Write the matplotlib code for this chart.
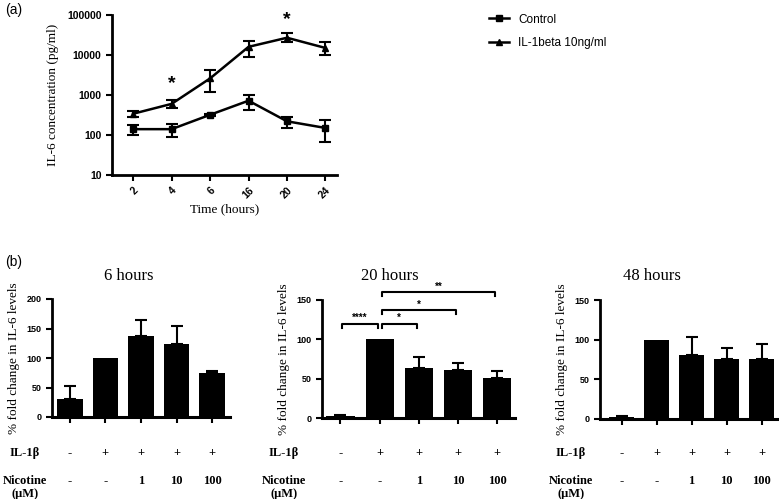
import numpy as np
import matplotlib
matplotlib.use('Agg')
import matplotlib.pyplot as plt
from matplotlib.lines import Line2D
from matplotlib.transforms import blended_transform_factory

SANS = 'Liberation Sans'
SERIF = 'Liberation Serif'

# Panel (a): IL-6 time course
times = ['2', '4', '6', '16', '20', '24']
ctrl = [140, 140, 320, 720, 220, 150]
ctrl_lo = [100, 90, 300, 430, 150, 65]
ctrl_hi = [180, 190, 340, 1000, 280, 240]
il1 = [340, 600, 2600, 16000, 27000, 15000]
il1_lo = [290, 470, 1200, 9000, 21000, 10000]
il1_hi = [400, 770, 4200, 23000, 35000, 21000]
star_pos = [1, 4]
star_val = [1900, 75000]

# Panel (b): % fold change
il1_row = ['-', '+', '+', '+', '+']
nic_row = ['-', '-', '1', '10', '100']
h6 = [30, 100, 138, 123, 75]
h6_err = [23, 0, 27, 31, 3]
h20 = [3, 100, 64, 61, 51]
h20_err = [1, 0, 13, 9, 9]
h48 = [3, 100, 81, 76, 76]
h48_err = [1, 0, 22, 13, 18]
# brackets: (from bar, to bar, height, label)
h20_sig = [(0, 1, 120, '****'), (1, 2, 120, '*'), (1, 3, 137, '*'), (1, 4, 160, '**')]

W, H = 779, 499
fig = plt.figure(figsize=(W / 100, H / 100), dpi=100)


def box(l, t, r, b):
    return [l / W, 1 - b / H, (r - l) / W, (b - t) / H]


def style(ax):
    for s in ['top', 'right']:
        ax.spines[s].set_visible(False)
    for s in ['left', 'bottom']:
        ax.spines[s].set_linewidth(2)
    ax.tick_params(width=1.5, length=4, direction='out')


# ---- (a)
ax = fig.add_axes(box(112, 15, 337, 175))
style(ax)
x = np.arange(len(times))
for vals, lo, hi, mk in [(ctrl, ctrl_lo, ctrl_hi, 's'), (il1, il1_lo, il1_hi, '^')]:
    ax.errorbar(x, vals, yerr=[np.subtract(vals, lo), np.subtract(hi, vals)],
                color='black', marker=mk, markersize=5, lw=1.8, capsize=4,
                elinewidth=1.5, capthick=1.5)
ax.set_yscale('log')
ax.set_ylim(10, 100000)
ax.set_xlim(-0.55, 5.3)
ax.set_yticks([10, 100, 1000, 10000, 100000])
ax.set_yticklabels(['10', '100', '1000', '10000', '100000'])
ax.minorticks_off()
ax.set_xticks(x)
ax.set_xticklabels(times, rotation=45, ha='right', rotation_mode='anchor')
for lab in ax.get_xticklabels() + ax.get_yticklabels():
    lab.set_fontfamily(SANS)
    lab.set_fontweight('bold')
    lab.set_fontsize(7.5)
for p, v in zip(star_pos, star_val):
    ax.text(x[p], v, '*', ha='center', va='center', fontsize=14,
            fontfamily=SANS, fontweight='bold')
ax.set_ylabel('IL-6 concentration (pg/ml)', fontfamily=SERIF, fontsize=9.5, labelpad=6)
ax.set_xlabel('Time (hours)', fontfamily=SERIF, fontsize=9.5, labelpad=2)
handles = [Line2D([], [], color='black', marker='s', markersize=5, lw=1.8),
           Line2D([], [], color='black', marker='^', markersize=5, lw=1.8)]
ax.legend(handles, ['Control', 'IL-1beta 10ng/ml'], loc='upper left',
          bbox_to_anchor=(478 / W, 1 - 3 / H), bbox_transform=fig.transFigure,
          frameon=False, prop={'family': SANS, 'size': 8.5}, handlelength=1.7,
          labelspacing=1.0)

fig.text(5 / W, 1 - 10 / H, '(a)', fontfamily=SANS, fontsize=10, va='center')
fig.text(5 / W, 1 - 262 / H, '(b)', fontfamily=SANS, fontsize=10, va='center')

# ---- (b)
panels = [
    ('6 hours', h6, h6_err, box(52, 299, 230, 417), 200, [0, 50, 100, 150, 200],
     (-0.5, 4.5), 25, 129),
    ('20 hours', h20, h20_err, box(322, 300, 515, 418), 150, [0, 50, 100, 150],
     (-0.47, 4.45), 284, 390),
    ('48 hours', h48, h48_err, box(600, 300, 779, 419), 150, [0, 50, 100, 150],
     (-0.62, 4.5), 571, 652),
]

for title, vals, errs, rect, ymax, yt, xl, lab_x, title_x in panels:
    ax = fig.add_axes(rect)
    style(ax)
    ax.spines['bottom'].set_linewidth(2.2)
    xb = np.arange(len(vals))
    ax.bar(xb, vals, width=0.72, color='black', zorder=2)
    for xi, v, e in zip(xb, vals, errs):
        if e > 0:
            ax.errorbar([xi], [v], yerr=[[0], [e]], fmt='none', ecolor='black',
                        elinewidth=1.5, capsize=4, capthick=1.5, zorder=1)
    ax.set_ylim(0, ymax)
    ax.set_yticks(yt)
    ax.set_xlim(*xl)
    ax.set_xticks(xb)
    ax.set_xticklabels([])
    for lab in ax.get_yticklabels():
        lab.set_fontfamily(SANS)
        lab.set_fontweight('bold')
        lab.set_fontsize(6.5)
    ax.set_ylabel('% fold change in IL-6 levels', fontfamily=SERIF, fontsize=9.5,
                  labelpad=5)
    fig.text(title_x / W, 1 - 276 / H, title, fontfamily=SERIF, fontsize=12,
             ha='center', va='center')
    tr = blended_transform_factory(ax.transData, fig.transFigure)
    for xi, a, b in zip(xb, il1_row, nic_row):
        ax.text(xi, 1 - 453 / H, a, transform=tr, ha='center', va='center',
                fontfamily=SERIF, fontweight='bold', fontsize=9)
        ax.text(xi, 1 - 481 / H, b, transform=tr, ha='center', va='center',
                fontfamily=SERIF, fontweight='bold', fontsize=9)
    fig.text(lab_x / W, 1 - 453 / H, 'IL-1β', ha='center', va='center',
             fontfamily=SERIF, fontweight='bold', fontsize=9)
    fig.text(lab_x / W, 1 - 481 / H, 'Nicotine', ha='center', va='center',
             fontfamily=SERIF, fontweight='bold', fontsize=9)
    fig.text(lab_x / W, 1 - 494 / H, '(μM)', ha='center', va='center',
             fontfamily=SERIF, fontweight='bold', fontsize=9)
    if title == '20 hours':
        for a, b, hgt, lab in h20_sig:
            xa, xe = a + 0.05, b - 0.05
            ax.plot([xa, xa, xe, xe], [hgt - 5, hgt, hgt, hgt - 5], color='black',
                    lw=1.5, clip_on=False)
            ax.text((a + b) / 2, hgt + 1, lab, ha='center', va='bottom',
                    fontfamily=SANS, fontweight='bold', fontsize=7)

fig.savefig('out.png', dpi=100)
